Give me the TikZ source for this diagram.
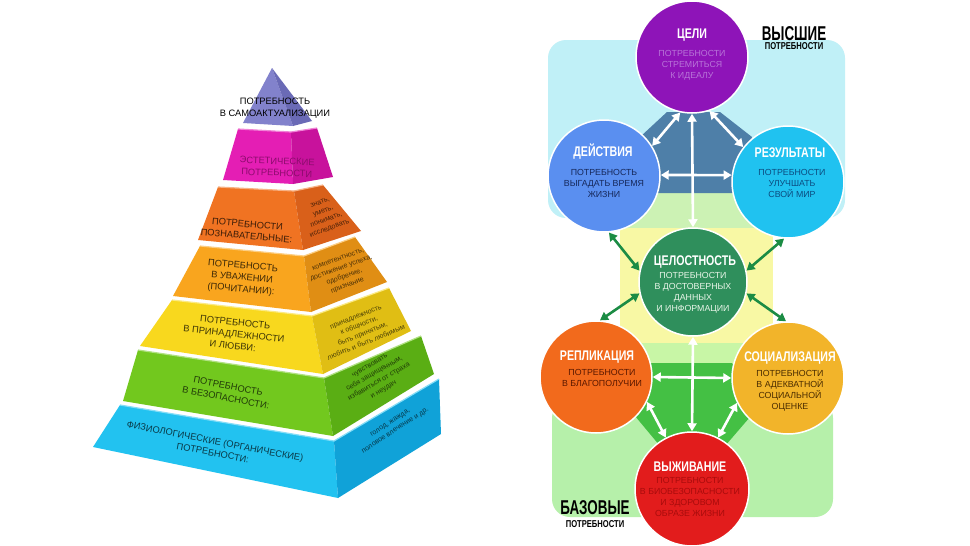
\documentclass[tikz,border=0pt]{standalone}
\usepackage{fontspec}
\setmainfont{Liberation Sans}
\newfontfamily\condb[FakeStretch=0.76]{Liberation Sans}
\newfontfamily\condx[FakeStretch=0.67]{Liberation Sans}
\usetikzlibrary{arrows.meta}
\definecolor{apexF}{HTML}{8282CC}\definecolor{apexS}{HTML}{6A6AB6}
\definecolor{pinkF}{HTML}{E41EB4}\definecolor{pinkS}{HTML}{C8129C}
\definecolor{oranF}{HTML}{F07322}\definecolor{oranS}{HTML}{D9601A}
\definecolor{ambF}{HTML}{F9A51E}\definecolor{ambS}{HTML}{E08E14}
\definecolor{yelF}{HTML}{F8D81E}\definecolor{yelS}{HTML}{E0BE14}
\definecolor{grnF}{HTML}{72C81E}\definecolor{grnS}{HTML}{5AAE14}
\definecolor{bluF}{HTML}{22C2F0}\definecolor{bluS}{HTML}{10A2D8}
\definecolor{cyanbg}{HTML}{C0F0F7}
\definecolor{lgband}{HTML}{CCF2B4}
\definecolor{yelbg}{HTML}{F8F8A4}
\definecolor{lgcol}{HTML}{C8F6A6}
\definecolor{lgpanel}{HTML}{B6F0AA}
\definecolor{steel}{HTML}{4E7FA8}
\definecolor{midgrn}{HTML}{44C044}
\definecolor{cPurple}{HTML}{8E14B8}\definecolor{tPurple}{HTML}{B874D8}
\definecolor{cBlue}{HTML}{5A8FF0}\definecolor{tBlue}{HTML}{16285A}
\definecolor{cCyan}{HTML}{20C2F0}\definecolor{tCyan}{HTML}{0C4C80}
\definecolor{cDkgrn}{HTML}{2F8F5C}\definecolor{tDkgrn}{HTML}{E8F5E8}
\definecolor{cOrange}{HTML}{F26A1C}\definecolor{tOrange}{HTML}{5A1800}
\definecolor{cAmber}{HTML}{F2B42A}\definecolor{tAmber}{HTML}{4A2C00}
\definecolor{cRed}{HTML}{E21C1C}\definecolor{tRed}{HTML}{A80C0C}
\definecolor{arrgreen}{HTML}{1B8C44}
\newcommand\pyrlayer[8]{%
  \fill[#1] #3 -- #4 -- #7 -- #6 -- cycle;
  \fill[#2] #4 -- #5 -- #8 -- #7 -- cycle;
  \draw[#1!55!white, line width=1.2pt, line join=round] #3 -- #4 -- #5;}
\tikzset{
  pyrtxt/.style={font=\fontsize{9.3}{11.8}\selectfont, align=center, inner sep=0},
  sidetxt/.style={font=\fontsize{7.1}{9.2}\selectfont, align=center, inner sep=0},
  circ/.style={circle, draw=white, line width=1.5pt, inner sep=0, minimum size=#1},
  ttl/.style={font=\condb\bfseries\fontsize{14}{16}\selectfont, text=white, inner sep=0},
  body/.style={font=\fontsize{8.8}{11}\selectfont, align=center, inner sep=0},
  biglab/.style={font=\condx\bfseries\fontsize{20}{22}\selectfont, inner sep=0},
  smlab/.style={font=\condb\bfseries\fontsize{10}{12}\selectfont, inner sep=0},
  warr/.style={draw=white, line width=2.6pt, {Triangle[length=8pt,width=9pt]}-{Triangle[length=8pt,width=9pt]}},
  garr/.style={draw=arrgreen, line width=2.6pt, {Triangle[length=8pt,width=9pt]}-{Triangle[length=8pt,width=9pt]}},
}
\begin{document}
\begin{tikzpicture}[x=1pt,y=-1pt]
\useasboundingbox (0,0) rectangle (970,546);
\fill[white] (0,0) rectangle (970,546);

% ---------------- pyramid ----------------
\fill[apexF] (272,68) -- (243,123) -- (293,126) -- cycle;
\fill[apexS] (272,68) -- (293,126) -- (312,121) -- cycle;
\pyrlayer{pinkF}{pinkS}{(238,129)}{(291,132)}{(317,128)}{(223,180)}{(293,184)}{(333,177)}
\pyrlayer{oranF}{oranS}{(218,187)}{(294,191)}{(323,185)}{(198,240)}{(303,250)}{(361,231)}
\pyrlayer{ambF}{ambS}{(200,246)}{(304,256)}{(355,237)}{(173,296)}{(311,312)}{(387,282)}
\pyrlayer{yelF}{yelS}{(172,300)}{(312,316)}{(389,288)}{(140,346)}{(323,374)}{(411,331)}
\pyrlayer{grnF}{grnS}{(138,350)}{(324,378)}{(421,336)}{(123,401)}{(333,436)}{(434,374)}
\pyrlayer{bluF}{bluS}{(120,405)}{(334,441)}{(439,379)}{(93,447)}{(338,498)}{(441,434)}

\node[pyrtxt, text=black] (tApex) at (275,108) {ПОТРЕБНОСТЬ\\В САМОАКТУАЛИЗАЦИИ};
\node[pyrtxt, text=pinkS!70!black, rotate=-2] (tPink) at (277,167) {ЭСТЕТИЧЕСКИЕ\\ПОТРЕБНОСТИ};
\node[pyrtxt, text=oranF!25!black, rotate=-5] (tOran) at (247,230) {ПОТРЕБНОСТИ\\ПОЗНАВАТЕЛЬНЫЕ:};
\node[pyrtxt, text=ambF!25!black, rotate=-5] (tAmb) at (242,278) {ПОТРЕБНОСТЬ\\В УВАЖЕНИИ\\(ПОЧИТАНИИ):};
\node[pyrtxt, text=yelF!25!black, rotate=-6] (tYel) at (234,334) {ПОТРЕБНОСТЬ\\В ПРИНАДЛЕЖНОСТИ\\И ЛЮБВИ:};
\node[pyrtxt, text=grnF!30!black, rotate=-11] (tGrn) at (227,392) {ПОТРЕБНОСТЬ\\В БЕЗОПАСНОСТИ:};
\node[pyrtxt, text=bluF!30!black, rotate=-11] (tBlu) at (214,447) {ФИЗИОЛОГИЧЕСКИЕ (ОРГАНИЧЕСКИЕ)\\ПОТРЕБНОСТИ:};

\node[sidetxt, text=oranS!35!black, rotate=20] (sOran) at (325,216) {знать,\\уметь,\\понимать,\\исследовать};
\node[sidetxt, text=ambS!35!black, rotate=20] (sAmb) at (343,273) {компетентность,\\достижение успеха,\\одобрение,\\признание};
\node[sidetxt, text=yelS!35!black, rotate=22] (sYel) at (361,330) {принадлежность\\к общности,\\быть принятым,\\любить и быть любимым};
\node[sidetxt, text=grnS!35!black, rotate=30] (sGrn) at (377,378) {чувствовать\\себя защищенным,\\избавиться от страха\\и неудач};
\node[sidetxt, text=bluS!35!black, rotate=33] (sBlu) at (393,427) {голод, жажда,\\половое влечение и др.};

% ---------------- right diagram backgrounds ----------------
\fill[cyanbg, rounded corners=18] (548,40) rectangle (845,218);
\fill[lgband] (620,193) rectangle (773,228);
\fill[yelbg] (620,228) rectangle (773,343);
\fill[lgpanel, rounded corners=18] (552,400) rectangle (833,517);
\fill[lgcol] (620,343) rectangle (760,410);
\fill[steel] (667,112) -- (720,112) -- (752,137) -- (740,193) -- (650,193) -- (640,137) -- cycle;
\fill[midgrn] (650,363) -- (732,363) -- (756,410) -- (725,446) -- (660,446) -- (630,410) -- cycle;

% ---------------- circles ----------------
\node[circ=112, fill=cPurple] (celi) at (692,57) {};
\node[circ=112, fill=cBlue] (deis) at (604,176) {};
\node[circ=112, fill=cCyan] (rez) at (788,182) {};
\node[circ=108, fill=cDkgrn] (zel) at (693,282) {};
\node[circ=112, fill=cOrange] (rep) at (596,377) {};
\node[circ=112, fill=cAmber] (soc) at (788,378) {};
\node[circ=114, fill=cRed] (vyzh) at (692,489) {};

% ---------------- arrows ----------------
\draw[warr] (celi.258) -- (deis.32);
\draw[warr] (celi.288) -- (rez.142);
\draw[warr] (deis.1) -- (rez.173);
\draw[warr] (celi.270) -- (zel.90);
\draw[garr] (deis.275) -- (zel.168);
\draw[garr] (rez.266) -- (zel.12);
\draw[garr] (zel.192) -- (rep.86);
\draw[garr] (zel.348) -- (soc.92);
\draw[warr] (zel.270) -- (vyzh.90);
\draw[warr] (rep.0) -- (soc.180);
\draw[warr] (rep.334) -- (vyzh.117);
\draw[warr] (soc.206) -- (vyzh.63);

% ---------------- circle texts ----------------
\node[ttl] (celiT) at (692,35) {ЦЕЛИ};
\node[body, text=tPurple] (celiB) at (692,65.5) {ПОТРЕБНОСТИ\\СТРЕМИТЬСЯ\\К ИДЕАЛУ};
\node[ttl] (deisT) at (603,152) {ДЕЙСТВИЯ};
\node[body, text=tBlue] (deisB) at (604,183) {ПОТРЕБНОСТЬ\\ВЫГАДАТЬ ВРЕМЯ\\ЖИЗНИ};
\node[ttl] (rezT) at (790,153) {РЕЗУЛЬТАТЫ};
\node[body, text=tCyan] (rezB) at (792,183) {ПОТРЕБНОСТИ\\УЛУЧШАТЬ\\СВОЙ МИР};
\node[ttl] (zelT) at (695,262) {ЦЕЛОСТНОСТЬ};
\node[body, text=tDkgrn] (zelB) at (693,293) {ПОТРЕБНОСТИ\\В ДОСТОВЕРНЫХ\\ДАННЫХ\\И ИНФОРМАЦИИ};
\node[ttl] (repT) at (597,357) {РЕПЛИКАЦИЯ};
\node[body, text=tOrange] (repB) at (602,378) {ПОТРЕБНОСТИ\\В БЛАГОПОЛУЧИИ};
\node[ttl] (socT) at (790,358) {СОЦИАЛИЗАЦИЯ};
\node[body, text=tAmber] (socB) at (790,390.5) {ПОТРЕБНОСТИ\\В АДЕКВАТНОЙ\\СОЦИАЛЬНОЙ\\ОЦЕНКЕ};
\node[ttl] (vyzhT) at (690,467) {ВЫЖИВАНИЕ};
\node[body, text=tRed] (vyzhB) at (690,497) {ПОТРЕБНОСТИ\\В БИОБЕЗОПАСНОСТИ\\И ЗДОРОВОМ\\ОБРАЗЕ ЖИЗНИ};

% ---------------- labels ----------------
\node[biglab] (hiT) at (794,33.5) {ВЫСШИЕ};
\node[smlab] (hiB) at (794,46) {ПОТРЕБНОСТИ};
\node[biglab] (baseT) at (595,507.5) {БАЗОВЫЕ};
\node[smlab] (baseB) at (595,524.5) {ПОТРЕБНОСТИ};
\end{tikzpicture}
\end{document}
